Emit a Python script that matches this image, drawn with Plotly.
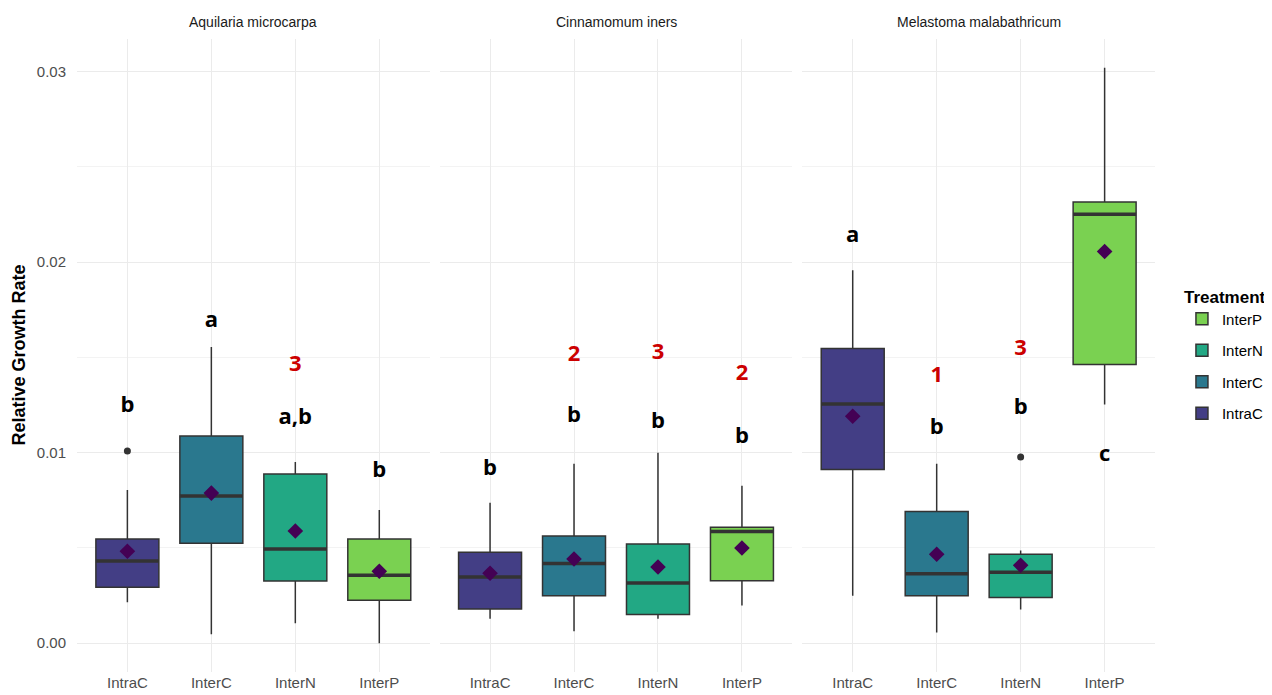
import plotly.graph_objects as go
from plotly.subplots import make_subplots

species = ["Aquilaria microcarpa", "Cinnamomum iners", "Melastoma malabathricum"]
treatments = ["IntraC", "InterC", "InterN", "InterP"]
colors = ["#433E85", "#2A788E", "#22A884", "#7AD151"]

# box statistics per species (order = treatments)
lower = [
    [0.00215, 0.00047, 0.00105, 0.00000],
    [0.00128, 0.00063, 0.00128, 0.00198],
    [0.00249, 0.00056, 0.00177, 0.01253],
]
q1 = [
    [0.00294, 0.00525, 0.00326, 0.00226],
    [0.00179, 0.00249, 0.00151, 0.00328],
    [0.00912, 0.00249, 0.00240, 0.01463],
]
median = [
    [0.00431, 0.00772, 0.00494, 0.00357],
    [0.00347, 0.00419, 0.00316, 0.00586],
    [0.01256, 0.00365, 0.00372, 0.02251],
]
q3 = [
    [0.00547, 0.01088, 0.00888, 0.00547],
    [0.00477, 0.00563, 0.00521, 0.00609],
    [0.01547, 0.00691, 0.00467, 0.02316],
]
upper = [
    [0.00804, 0.01555, 0.00951, 0.00699],
    [0.00737, 0.00942, 0.01000, 0.00826],
    [0.01958, 0.00942, 0.00486, 0.03020],
]
means = [
    [0.00483, 0.00788, 0.00589, 0.00378],
    [0.00367, 0.00442, 0.00400, 0.00500],
    [0.01191, 0.00467, 0.00409, 0.02056],
]
# outliers: (species index, treatment index, value)
outliers = [(0, 0, 0.01009), (2, 2, 0.00977)]

# significance letters
letters = [
    ["b", "a", "a,b", "b"],
    ["b", "b", "b", "b"],
    ["a", "b", "b", "c"],
]
letter_y = [
    [0.0124, 0.0169, 0.01177, 0.00899],
    [0.00912, 0.0119, 0.01156, 0.01079],
    [0.02137, 0.01128, 0.01233, 0.00986],
]
red_labels = [
    ["", "", "3", ""],
    ["", "2", "3", "2"],
    ["", "1", "3", ""],
]
red_y = [
    [None, None, 0.01456, None],
    [None, 0.0151, 0.01521, 0.01412],
    [None, 0.0140, 0.01544, None],
]

BOX_W = 0.75
FONT = "Liberation Sans"

fig = make_subplots(rows=1, cols=3, shared_yaxes=True)

for s in range(3):
    col = s + 1
    for t, trt in enumerate(treatments):
        pos = t + 1
        fig.add_trace(go.Box(
            x=[pos], q1=[q1[s][t]], median=[median[s][t]], q3=[q3[s][t]],
            lowerfence=[lower[s][t]], upperfence=[upper[s][t]],
            width=BOX_W, whiskerwidth=0, boxpoints=False,
            fillcolor=colors[t], line=dict(color="#333333", width=1.5),
            name=trt, legendgroup=trt, showlegend=(s == 0),
            legendrank=len(treatments) - t, hoverinfo="skip",
        ), row=1, col=col)
        # thick median line (ggplot fatten)
        fig.add_trace(go.Scatter(
            x=[pos - BOX_W / 2, pos + BOX_W / 2], y=[median[s][t], median[s][t]],
            mode="lines", line=dict(color="#333333", width=3.5),
            showlegend=False, hoverinfo="skip",
        ), row=1, col=col)
    # means
    fig.add_trace(go.Scatter(
        x=[t + 1 for t in range(4)], y=means[s], mode="markers",
        marker=dict(symbol="diamond", size=12, color="#440154"),
        showlegend=False, hoverinfo="skip",
    ), row=1, col=col)
    # outliers
    ox = [o[1] + 1 for o in outliers if o[0] == s]
    oy = [o[2] for o in outliers if o[0] == s]
    if ox:
        fig.add_trace(go.Scatter(
            x=ox, y=oy, mode="markers",
            marker=dict(size=7, color="#333333"),
            showlegend=False, hoverinfo="skip",
        ), row=1, col=col)
    # letters
    fig.add_trace(go.Scatter(
        x=[t + 1 for t in range(4)], y=letter_y[s], mode="text",
        text=letters[s], textposition="middle center",
        textfont=dict(family="Open Sans", size=22, color="#000000", weight="bold"),
        showlegend=False, hoverinfo="skip",
    ), row=1, col=col)
    rx = [t + 1 for t in range(4) if red_labels[s][t]]
    ry = [red_y[s][t] for t in range(4) if red_labels[s][t]]
    rt = [red_labels[s][t] for t in range(4) if red_labels[s][t]]
    fig.add_trace(go.Scatter(
        x=rx, y=ry, mode="text", text=rt, textposition="middle center",
        textfont=dict(family="Open Sans", size=22, color="#CC0000", weight="bold"),
        showlegend=False, hoverinfo="skip",
    ), row=1, col=col)

domains = [[0.0, 0.32715], [0.33643, 0.66357], [0.67285, 1.0]]
for i in range(3):
    key = "xaxis" if i == 0 else f"xaxis{i+1}"
    fig.layout[key].update(
        domain=domains[i], range=[0.4, 4.6], automargin=False,
        tickmode="array", tickvals=[1, 2, 3, 4], ticktext=treatments,
        showgrid=True, gridcolor="#EBEBEB", gridwidth=1.2,
        zeroline=False, showline=False, ticks="",
        tickfont=dict(family=FONT, size=15, color="#4D4D4D"),
    )
    ykey = "yaxis" if i == 0 else f"yaxis{i+1}"
    fig.layout[ykey].update(
        range=[-0.00151, 0.03171], automargin=False,
        tickmode="array", tickvals=[0, 0.01, 0.02, 0.03],
        ticktext=["0.00", "0.01", "0.02", "0.03"],
        showgrid=True, gridcolor="#EBEBEB", gridwidth=1.2,
        minor=dict(tickmode="array", tickvals=[0.005, 0.015, 0.025],
                   showgrid=True, gridcolor="#F3F3F3", gridwidth=0.8),
        zeroline=False, showline=False, ticks="",
        showticklabels=(i == 0), ticklabelstandoff=10,
        tickfont=dict(family=FONT, size=15, color="#4D4D4D"),
    )
    # strip titles
    fig.add_annotation(
        x=(domains[i][0] + domains[i][1]) / 2, y=1, xref="paper", yref="paper",
        yshift=17, text=species[i], showarrow=False,
        xanchor="center", yanchor="middle",
        font=dict(family=FONT, size=14, color="#1A1A1A"),
    )

fig.add_annotation(
    x=-0.0547, y=0.5, xref="paper", yref="paper", text="<b>Relative Growth Rate</b>",
    textangle=-90, showarrow=False, xanchor="center", yanchor="middle",
    font=dict(family=FONT, size=18, color="#000000"),
)

fig.update_layout(
    width=1264, height=687,
    margin=dict(l=69, r=117, t=31, b=23, autoexpand=False),
    plot_bgcolor="white", paper_bgcolor="white",
    boxmode="overlay",
    legend=dict(
        title=dict(text="<b>Treatment</b>", font=dict(family=FONT, size=17, color="#000000")),
        font=dict(family=FONT, size=15, color="#000000"),
        x=1.025, xanchor="left", y=0.5, yanchor="middle",
        tracegroupgap=9, itemwidth=30,
    ),
)

fig.write_html("out.html")
